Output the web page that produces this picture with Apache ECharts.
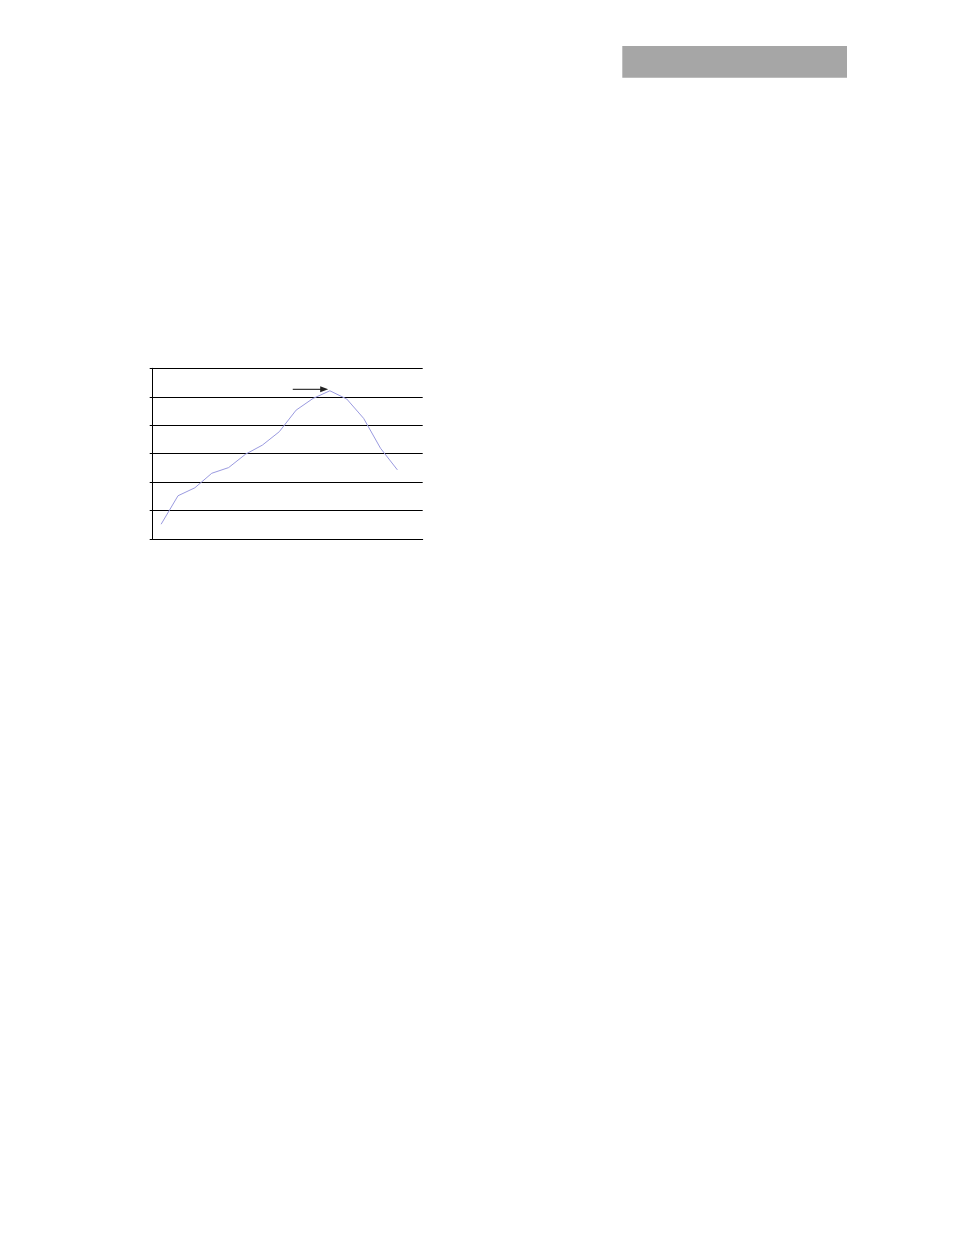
<!DOCTYPE html>
<html>
<head>
<meta charset="utf-8">
<script src="https://cdn.jsdelivr.net/npm/echarts@6/dist/echarts.min.js"></script>
<style>
html,body{margin:0;padding:0;background:#fff;}
#chart{width:954px;height:1235px;}
</style>
</head>
<body>
<div id="chart"></div>
<script>
var categories = ['1','2','3','4','5','6','7','8','9','10','11','12','13','14','15','16'];
var values = [5.2, 15.2, 18.0, 23.1, 25.1, 29.8, 33.0, 37.7, 45.3, 49.4, 52.1, 49.2, 42.4, 31.9, 24.3, null];
var yTicks = [0, 10, 20, 30, 40, 50, 60];
var arrowFrom = [7.8, 52.6];
var arrowTo = [9.9, 52.6];

var chart = echarts.init(document.getElementById('chart'), null, {renderer: 'canvas'});
var option = {
  animation: false,
  backgroundColor: '#ffffff',
  grid: {left: 152.7, right: 531.3, top: 368.3, bottom: 696, containLabel: false},
  xAxis: {
    type: 'category',
    data: categories,
    boundaryGap: true,
    axisLine: {show: true, lineStyle: {color: '#000', width: 1}},
    axisTick: {show: false},
    axisLabel: {show: false},
    splitLine: {show: false}
  },
  yAxis: {
    type: 'value',
    min: yTicks[0],
    max: yTicks[yTicks.length - 1],
    interval: 10,
    axisLine: {show: true, lineStyle: {color: '#000', width: 1}},
    axisTick: {show: true, length: 3, lineStyle: {color: '#000'}},
    axisLabel: {show: false},
    splitLine: {show: true, lineStyle: {color: '#000', width: 1}}
  },
  series: [{
    type: 'line',
    data: values,
    symbol: 'none',
    connectNulls: false,
    lineStyle: {color: '#9a9ae0', width: 1}
  }]
};
chart.setOption(option);

function toPx(pt) {
  var i = Math.floor(pt[0]);
  var f = pt[0] - i;
  var a = chart.convertToPixel({xAxisIndex: 0, yAxisIndex: 0}, [i, pt[1]]);
  var b = chart.convertToPixel({xAxisIndex: 0, yAxisIndex: 0}, [i + 1, pt[1]]);
  return [a[0] + (b[0] - a[0]) * f, a[1]];
}
var p1 = toPx(arrowFrom), p2 = toPx(arrowTo);
chart.setOption({
  graphic: [
    {type: 'rect', shape: {x: 622.3, y: 46, width: 224.7, height: 31.7}, style: {fill: '#a6a6a6'}},
    {type: 'line', shape: {x1: p1[0], y1: p1[1], x2: p2[0] - 7, y2: p2[1]}, style: {stroke: '#333', lineWidth: 1.2}},
    {type: 'polygon', shape: {points: [[p2[0], p2[1]], [p2[0] - 8, p2[1] - 3], [p2[0] - 8, p2[1] + 3]]}, style: {fill: '#222'}}
  ]
});
</script>
</body>
</html>
